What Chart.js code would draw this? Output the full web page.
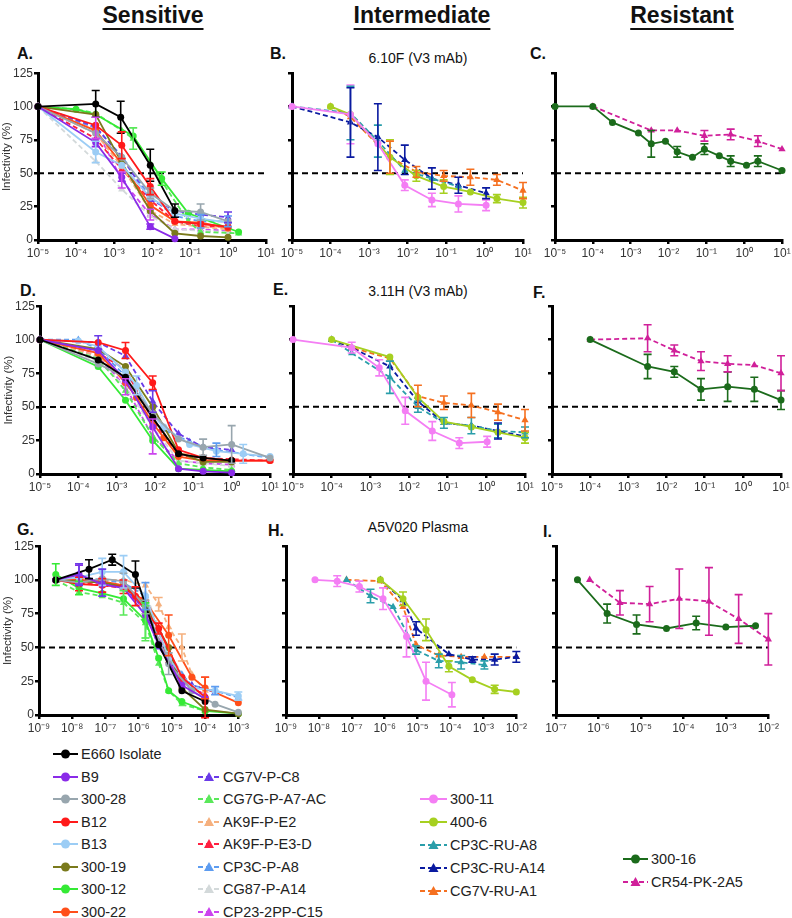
<!DOCTYPE html>
<html>
<head>
<meta charset="utf-8">
<script src="https://cdn.jsdelivr.net/npm/chart.js@4.4.1/dist/chart.umd.min.js"></script>
<style>
  body { margin: 0; background: #fff; font-family: 'Liberation Sans', Arial, sans-serif; color: #111; }
  #page { position: relative; width: 792px; height: 918px; overflow: hidden; }
  canvas { position: absolute; }
  .hd { position: absolute; font-family: 'Liberation Sans Narrow', 'Arial Narrow', 'Liberation Sans', sans-serif; font-weight: bold;
        font-size: 23px; line-height: 1; text-decoration: underline; text-decoration-thickness: 2px; text-underline-offset: 5px;
        transform: translateX(-50%); white-space: nowrap; }
  .lt { position: absolute; font-size: 16px; font-weight: bold; line-height: 1; }
  .st { position: absolute; font-size: 14px; line-height: 1; transform: translateX(-50%); white-space: nowrap; }
  .lg { position: absolute; font-size: 14.5px; line-height: 16px; height: 16px; white-space: nowrap; color: #222; display: flex; align-items: center; }
  .lg svg { flex: none; }
</style>
</head>
<body>
<div id="page">
  <div class="hd" style="left:153px;top:4px">Sensitive</div>
  <div class="hd" style="left:422px;top:4px">Intermediate</div>
  <div class="hd" style="left:682px;top:4px">Resistant</div>

  <div class="lt" style="left:17px;top:46px">A.</div>
  <div class="lt" style="left:270px;top:46px">B.</div>
  <div class="st" style="left:418px;top:51px">6.10F (V3 mAb)</div>
  <div class="lt" style="left:530px;top:46px">C.</div>

  <div class="lt" style="left:20px;top:283px">D.</div>
  <div class="lt" style="left:273px;top:282px">E.</div>
  <div class="st" style="left:418px;top:284px">3.11H (V3 mAb)</div>
  <div class="lt" style="left:533px;top:285px">F.</div>

  <div class="lt" style="left:17px;top:522px">G.</div>
  <div class="lt" style="left:268px;top:523px">H.</div>
  <div class="st" style="left:418px;top:520px">A5V020 Plasma</div>
  <div class="lt" style="left:543px;top:524px">I.</div>
</div>
<script>
// x tick exponents
const ticksRow12 = [-5, -4, -3, -2, -1, 0, 1];
const ticksG = [-9, -8, -7, -6, -5, -4, -3];
const ticksH = [-9, -8, -7, -6, -5, -4, -3, -2];
const ticksI = [-7, -6, -5, -4, -3, -2];

// [concentration, infectivity %, error]
const sensA = [
  ['E660 Isolate', [[1e-5,100],[3.3e-4,102,10],[1.5e-3,92,12],[9e-3,56,12],[0.04,22,5]]],
  ['B9', [[1e-5,100],[3.3e-4,73,3],[1.6e-3,47,3],[9e-3,10,2],[0.04,1]]],
  ['300-28', [[1e-5,100],[3.3e-4,80],[1.6e-3,62],[9e-3,35,4],[0.04,22],[0.19,21,6],[1,14]]],
  ['B12', [[1e-5,100],[3.3e-4,86],[1.6e-3,71,10],[9e-3,40,6],[0.04,14],[0.19,12],[1,10]]],
  ['B13', [[1e-5,100],[3.3e-4,66,8],[1.6e-3,56],[9e-3,32],[0.04,20],[0.19,16],[1,13]]],
  ['300-19', [[1e-5,100],[3.3e-4,94],[1.6e-3,58],[9e-3,22],[0.04,5],[0.19,3],[1,2]]],
  ['300-12', [[1e-5,100],[1e-4,98],[3.3e-4,94],[3.2e-3,78],[0.018,46,5],[0.09,20],[1.9,6]]],
  ['300-22', [[1e-5,100],[3.3e-4,82],[1.6e-3,57],[9e-3,26],[0.04,14],[0.19,13],[1,9]]],
  ['CG7V-P-C8', [[1e-5,100],[3.3e-4,85],[1.6e-3,62],[9e-3,30],[0.04,22],[0.19,19],[1,17,4]]],
  ['CG7G-P-A7-AC', [[1e-5,100],[1e-4,98],[3.3e-4,95],[1.6e-3,82],[3.2e-3,76,8],[0.018,44],[0.09,14],[0.19,6],[1.9,5]]],
  ['AK9F-P-E2', [[1e-5,100],[3.3e-4,80],[1.6e-3,55],[9e-3,22],[0.04,12],[0.19,10],[1,8]]],
  ['AK9F-P-E3-D', [[1e-5,100],[3.3e-4,76],[1.6e-3,53],[9e-3,30],[0.04,14],[0.19,10],[1,10]]],
  ['CP3C-P-A8', [[1e-5,100],[3.3e-4,84],[1.6e-3,63],[9e-3,32],[0.04,18],[0.19,14,5],[1,14,4]]],
  ['CG87-P-A14', [[1e-5,100],[3.3e-4,59],[1.6e-3,38],[9e-3,18],[0.04,8],[0.19,7],[1,6]]],
  ['CP23-2PP-C15', [[1e-5,100],[3.3e-4,84,8],[1.6e-3,45,6],[9e-3,19,4],[0.04,8],[0.19,8],[1,7]]]
];

const interB = [
  ['300-11', [[1e-5,100],[3.3e-4,94,22],[1.7e-3,72],[8.5e-3,41,4],[0.043,30,5],[0.21,27,6],[1.1,26,4]]],
  ['400-6', [[1e-4,100],[3.3e-4,94],[3.5e-3,62,13],[0.017,48,4],[0.087,40,5],[0.43,36],[2.1,31,3],[10,28,4]]],
  ['CP3C-RU-A8', [[1e-5,100],[3.3e-4,95,20],[1.7e-3,74,12],[8.5e-3,52],[0.043,46],[0.21,40]]],
  ['CP3C-RU-A14', [[1e-5,100],[3.3e-4,88,26],[1.7e-3,77,25],[8.5e-3,60,11],[0.043,46,8],[0.21,41,6],[1.1,35,4]]],
  ['CG7V-RU-A1', [[1e-4,100],[3.3e-4,92],[3.5e-3,62,12],[0.017,51,4],[0.087,48,4],[0.43,47,6],[2.1,45,4],[10,37,6]]]
];

const resC = [
  ['300-16', [[1e-5,100],[1e-4,100],[3.3e-4,88],[1.6e-3,80],[3.5e-3,72,10],[8.3e-3,74],[0.017,66,4],[0.043,62],[0.089,68,4],[0.22,63],[0.44,59,4],[1.15,56],[2.3,59,4],[10,52]]],
  ['CR54-PK-2A5', [[1e-4,100],[3.5e-3,82],[0.017,82],[0.089,78,4],[0.44,79,4],[2.3,74,4],[10,68]]]
];

const sensD = [
  ['E660 Isolate', [[1e-5,100],[3.3e-4,85],[1.7e-3,72],[8.7e-3,42],[0.041,15],[0.18,12],[1,10]]],
  ['B9', [[1e-5,100],[3.3e-4,92],[1.7e-3,70],[8.7e-3,35],[0.041,4],[0.18,2],[1,1]]],
  ['300-28', [[1e-5,100],[3.3e-4,82],[1.7e-3,72],[8.7e-3,45],[0.041,26],[0.18,20,6],[1,22,14],[10,12]]],
  ['B12', [[1e-5,100],[3.3e-4,98],[1.7e-3,92,6],[8.7e-3,68,5],[0.041,18],[0.18,12],[1,10],[10,10]]],
  ['B13', [[1e-5,100],[1e-4,99],[3.3e-4,95],[1.7e-3,76],[3.3e-3,66,7],[8.7e-3,44],[0.017,35],[0.08,22],[0.4,17],[2,15,7],[10,13]]],
  ['300-19', [[1e-5,100],[3.3e-4,93],[1.7e-3,80],[8.7e-3,50],[0.041,16],[0.18,9],[1,9]]],
  ['300-12', [[1e-5,100],[3.3e-4,80],[1.7e-3,55],[8.7e-3,25],[0.041,4],[0.18,3],[1,2]]],
  ['300-22', [[1e-5,100],[3.3e-4,90],[1.7e-3,68],[3.3e-3,57],[8.7e-3,38],[0.017,27],[0.041,13],[0.18,10],[1,10],[10,10]]],
  ['CG7V-P-C8', [[1e-5,100],[3.3e-4,98,5],[1.7e-3,88],[8.7e-3,54,8],[0.041,30],[0.18,20],[1,18]]],
  ['CG7G-P-A7-AC', [[1e-5,100],[3.3e-4,86],[1.7e-3,62],[8.7e-3,28],[0.041,8],[0.18,5],[1,3]]],
  ['AK9F-P-E2', [[1e-5,100],[3.3e-4,88],[1.7e-3,70],[8.7e-3,42],[0.041,16],[0.18,12],[1,10]]],
  ['AK9F-P-E3-D', [[1e-5,100],[3.3e-4,90],[1.7e-3,78],[8.7e-3,40],[0.041,14],[0.18,12],[1,11],[10,10]]],
  ['CP3C-P-A8', [[1e-5,100],[1e-4,100],[3.3e-4,93],[1.7e-3,73],[3.3e-3,66],[8.7e-3,40],[0.017,33],[0.08,24],[0.4,18,5],[2,15],[10,12]]],
  ['CG87-P-A14', [[1e-5,100],[3.3e-4,84],[1.7e-3,65],[8.7e-3,35],[0.041,10],[0.18,8],[1,6]]],
  ['CP23-2PP-C15', [[1e-5,100],[3.3e-4,88],[1.7e-3,65,6],[8.7e-3,28,13],[0.041,10],[0.18,8],[1,7]]]
];

const interE = [
  ['300-11', [[1e-5,100],[3.3e-4,94,4],[1.7e-3,79,6],[8e-3,47,10],[0.04,32,7],[0.2,23,4],[1.05,24,4]]],
  ['400-6', [[1e-4,100],[3.2e-3,87],[0.017,57],[0.08,39],[0.41,35],[2,31],[10,27,4]]],
  ['CP3C-RU-A8', [[1e-4,100],[3.3e-4,90],[3.2e-3,72,12],[0.017,50,4],[0.08,38,4],[0.41,36,6],[2,32,5],[10,31,4]]],
  ['CP3C-RU-A14', [[1e-4,100],[3.3e-4,94],[3.2e-3,80],[0.017,54],[0.08,38],[0.41,36],[2,32,6],[10,28]]],
  ['CG7V-RU-A1', [[1e-4,100],[3.3e-4,94],[3.2e-3,86],[0.017,58,8],[0.08,53,5],[0.41,51,9],[2,46,6],[10,40,8]]]
];

const resF = [
  ['300-16', [[1e-4,100],[3.2e-3,80,9],[0.016,76,4],[0.08,63,8],[0.4,65,11],[2,63,9],[10,55,7]]],
  ['CR54-PK-2A5', [[1e-4,100],[3.2e-3,101,10],[0.016,92,4],[0.08,84,7],[0.4,82,6],[2,81],[10,75,13]]]
];

const sensG = [
  ['E660 Isolate', [[3.2e-9,100],[3.2e-8,108,7],[1.6e-7,115,4],[8e-7,104,10],[4e-6,52],[2e-5,18],[1e-4,10]]],
  ['B9', [[3.2e-9,100],[1.6e-8,104,7],[8e-8,97],[3.5e-7,94],[1.6e-6,74],[4e-6,52],[2e-5,22],[1e-4,12]]],
  ['300-28', [[3.2e-9,100],[1.6e-8,98],[8e-8,101],[3.5e-7,99,6],[1.6e-6,80,5],[8e-6,38,8],[4e-5,18],[2e-4,8],[1e-3,2]]],
  ['B12', [[3.2e-9,100],[1.6e-8,97,5],[8e-8,96,5],[3.5e-7,95,5],[8e-7,88,7],[4e-6,64,4],[2e-5,28],[1e-4,13,15]]],
  ['B13', [[3.2e-9,100],[1.6e-8,102],[8e-8,106,10],[3.5e-7,106,12],[1.6e-6,88],[8e-6,42],[4e-5,20],[2e-4,18],[1e-3,14,3]]],
  ['300-19', [[3.2e-9,100],[1.6e-8,99],[8e-8,98],[3.5e-7,95],[1.6e-6,82],[8e-6,50],[2e-5,20],[1e-4,4],[1e-3,1]]],
  ['300-12', [[3.2e-9,104,8],[1.6e-8,94,5],[8e-8,90],[3.5e-7,86],[1.6e-6,70,13],[4e-6,42],[8e-6,18],[2e-5,10],[1e-4,3],[1e-3,1]]],
  ['300-22', [[3.2e-9,100],[1.6e-8,100],[8e-8,99],[3.5e-7,96],[1.6e-6,84],[8e-6,59,15],[4e-5,28],[1e-4,20,8],[1e-3,9]]],
  ['CG7V-P-C8', [[3.2e-9,100],[1.6e-8,104,8],[8e-8,98,10],[3.5e-7,95],[1.6e-6,78],[4e-6,50],[2e-5,28],[4e-5,22],[2e-4,17]]],
  ['CG7G-P-A7-AC', [[3.2e-9,100],[1.6e-8,91],[8e-8,88],[3.5e-7,83,9],[1.6e-6,68,13],[4e-6,38],[8e-6,18],[2e-5,8],[1e-4,3]]],
  ['AK9F-P-E2', [[3.2e-9,100],[1.6e-8,101],[8e-8,100],[3.5e-7,100],[1.6e-6,96],[4e-6,82,5],[8e-6,65],[2e-5,50,10],[4e-5,30],[1e-4,18]]],
  ['AK9F-P-E3-D', [[3.2e-9,100],[1.6e-8,98],[8e-8,96],[3.5e-7,94],[1.6e-6,85],[4e-6,62],[8e-6,40],[2e-5,26],[1e-4,14]]],
  ['CP3C-P-A8', [[3.2e-9,100],[1.6e-8,102],[8e-8,100],[3.5e-7,98],[1.6e-6,88,10],[4e-6,52],[2e-5,30],[4e-5,22],[2e-4,18,3],[1e-3,13]]],
  ['CG87-P-A14', [[3.2e-9,100],[1.6e-8,100],[8e-8,98],[3.5e-7,96],[1.6e-6,90],[8e-6,46],[4e-5,20],[1e-4,14]]],
  ['CP23-2PP-C15', [[3.2e-9,100],[1.6e-8,100],[8e-8,97],[3.5e-7,94],[1.6e-6,78],[4e-6,55],[2e-5,25],[1e-4,15]]]
];

const interH = [
  ['300-11', [[7.6e-9,100],[3.6e-8,99,4],[1.7e-7,95,4],[8.9e-7,86,8],[4.6e-6,58,15],[1.8e-5,25,14],[1.1e-4,15,9]]],
  ['400-6', [[7.4e-7,100],[3.6e-6,86,5],[1.8e-5,63,8],[8.9e-5,36,4],[4.6e-4,26],[2.2e-3,19,3],[1e-2,17]]],
  ['CP3C-RU-A8', [[6.9e-8,100],[3.7e-7,88,5],[1.8e-6,80],[9e-6,48,3],[4.4e-5,40,5],[2.1e-4,39,5],[1.07e-3,37,3]]],
  ['CP3C-RU-A14', [[7.4e-7,100],[3.6e-6,85],[9e-6,64,5],[8.9e-5,45],[4.6e-4,41,2],[2.2e-3,41,4],[1e-2,43,4]]],
  ['CG7V-RU-A1', [[6.9e-8,100],[7.4e-7,99],[3.6e-6,80],[9e-6,52],[4.4e-5,44],[2.1e-4,43],[1.07e-3,43],[1e-2,43]]]
];

const resI = [
  ['300-16', [[3.2e-7,100],[1.6e-6,75,7],[7.9e-6,67,7],[4e-5,64],[2e-4,68,5],[1e-3,65],[5e-3,66]]],
  ['CR54-PK-2A5', [[6.2e-7,100],[3.2e-6,83,9],[1.6e-5,82,13],[8e-5,86,22],[4e-4,84,25],[2e-3,71,18],[1e-2,56,19]]]
];

// legend columns
const legendCol1 = ['E660 Isolate', 'B9', '300-28', 'B12', 'B13', '300-19', '300-12', '300-22'];
const legendCol2 = ['CG7V-P-C8', 'CG7G-P-A7-AC', 'AK9F-P-E2', 'AK9F-P-E3-D', 'CP3C-P-A8', 'CG87-P-A14', 'CP23-2PP-C15'];
const legendCol3 = ['300-11', '400-6', 'CP3C-RU-A8', 'CP3C-RU-A14', 'CG7V-RU-A1'];
const legendCol4 = ['300-16', 'CR54-PK-2A5'];

// colour, marker, dashed
const styles = {
  'E660 Isolate': ['#000000', 'circle', false],
  'B9': ['#8a2be8', 'circle', false],
  '300-28': ['#98a6ae', 'circle', false],
  'B12': ['#ff1a1a', 'circle', false],
  'B13': ['#9ccdf5', 'circle', false],
  '300-19': ['#7a7a1c', 'circle', false],
  '300-12': ['#35ea35', 'circle', false],
  '300-22': ['#ff4f1a', 'circle', false],
  'CG7V-P-C8': ['#6a3be8', 'triangle', true],
  'CG7G-P-A7-AC': ['#5ae85a', 'triangle', true],
  'AK9F-P-E2': ['#f5b07e', 'triangle', true],
  'AK9F-P-E3-D': ['#ff2040', 'triangle', true],
  'CP3C-P-A8': ['#5d9cf0', 'triangle', true],
  'CG87-P-A14': ['#d3d9da', 'triangle', true],
  'CP23-2PP-C15': ['#cc44ee', 'triangle', true],
  '300-11': ['#f47ef4', 'circle', false],
  '400-6': ['#a6d020', 'circle', false],
  'CP3C-RU-A8': ['#2a9eaa', 'triangle', true],
  'CP3C-RU-A14': ['#0a1aa0', 'triangle', true],
  'CG7V-RU-A1': ['#f57020', 'triangle', true],
  '300-16': ['#1b6b1b', 'circle', false],
  'CR54-PK-2A5': ['#d0209a', 'triangle', true]
};

Chart.defaults.font.family = "'Liberation Sans', Arial, sans-serif";

const SUP = { '-': '\u207B', '0': '\u2070', '1': '\u00B9', '2': '\u00B2', '3': '\u00B3', '4': '\u2074', '5': '\u2075', '6': '\u2076', '7': '\u2077', '8': '\u2078', '9': '\u2079' };
function powLabel(e) {
  return '10' + String(e).split('').map(c => SUP[c]).join('');
}

const errorBars = {
  id: 'errorBars',
  afterDatasetsDraw(chart) {
    const ctx = chart.ctx, xs = chart.scales.x, ys = chart.scales.y;
    chart.data.datasets.forEach(ds => {
      if (!ds.errs) return;
      ctx.save();
      ctx.strokeStyle = ds.borderColor;
      ctx.lineWidth = 1.6;
      ds.data.forEach((p, i) => {
        const e = ds.errs[i];
        if (!e) return;
        const px = xs.getPixelForValue(p.x);
        const y1 = ys.getPixelForValue(p.y + e), y2 = ys.getPixelForValue(p.y - e);
        ctx.beginPath();
        ctx.moveTo(px, y1); ctx.lineTo(px, y2);
        ctx.moveTo(px - 4, y1); ctx.lineTo(px + 4, y1);
        ctx.moveTo(px - 4, y2); ctx.lineTo(px + 4, y2);
        ctx.stroke();
      });
      ctx.restore();
    });
  }
};

const YW = 38, PT = 8, PR = 12, XH = 26;

function makePanel(series, p) {
  const cv = document.createElement('canvas');
  const w = YW + (p.right - p.left) + PR;
  const h = PT + (p.bottom - p.top) + XH;
  cv.width = w; cv.height = h;
  cv.style.left = (p.left - YW) + 'px';
  cv.style.top = (p.top - PT) + 'px';
  cv.style.width = w + 'px'; cv.style.height = h + 'px';
  document.getElementById('page').appendChild(cv);

  const datasets = series.map(([name, pts]) => {
    const [color, shape, dashed] = styles[name];
    return {
      label: name,
      data: pts.map(q => ({ x: q[0], y: q[1] })),
      errs: pts.map(q => q[2] || 0),
      borderColor: color,
      backgroundColor: color,
      borderWidth: 1.8,
      borderDash: dashed ? [5, 3] : [],
      pointStyle: shape,
      pointRadius: shape === 'circle' ? 3.5 : 4.2,
      pointBorderWidth: 0,
      tension: 0,
      clip: false
    };
  });
  datasets.push({
    label: 'IC50',
    data: [{ x: p.min, y: 50 }, { x: p.max, y: 50 }],
    borderColor: '#000',
    borderWidth: 2,
    borderDash: [6, 4],
    pointRadius: 0,
    clip: false
  });

  const axisGrid = { display: true, drawOnChartArea: false, drawTicks: true, tickLength: 4, lineWidth: 2.5, color: '#000' };
  new Chart(cv, {
    type: 'line',
    data: { datasets },
    plugins: [errorBars],
    options: {
      responsive: false,
      animation: false,
      events: [],
      layout: { padding: { left: 0, right: PR, top: PT, bottom: 0 }, autoPadding: false },
      plugins: { legend: { display: false }, tooltip: { enabled: false } },
      scales: {
        x: {
          type: 'logarithmic',
          min: p.min, max: p.max,
          afterBuildTicks: s => { s.ticks = p.exps.map(e => ({ value: Math.pow(10, e) })); },
          afterFit: s => { s.height = XH; },
          border: { display: true, color: '#000', width: 3 },
          grid: axisGrid,
          ticks: {
            color: '#333', font: { size: 12 }, padding: 2, maxRotation: 0, autoSkip: false,
            callback: v => powLabel(Math.round(Math.log10(v)))
          }
        },
        y: {
          min: 0, max: 125,
          afterFit: s => { s.width = YW; },
          border: { display: true, color: '#000', width: 3 },
          grid: axisGrid,
          ticks: { display: p.yLabels, stepSize: 25, color: '#333', font: { size: 12 }, padding: 1 },
          title: { display: p.yLabels, text: 'Infectivity (%)', color: '#333', font: { size: 11.5 }, padding: { top: 0, bottom: 1 } }
        }
      }
    }
  });
}

makePanel(sensA,  { left: 38,  right: 266, top: 72.5, bottom: 240, min: 1e-5, max: 10, exps: ticksRow12, yLabels: true });
makePanel(interB, { left: 292, right: 523, top: 72.5, bottom: 240, min: 1e-5, max: 10, exps: ticksRow12, yLabels: false });
makePanel(resC,   { left: 555, right: 782, top: 72.5, bottom: 240, min: 1e-5, max: 10, exps: ticksRow12, yLabels: false });
makePanel(sensD,  { left: 40,  right: 270, top: 306, bottom: 474, min: 1e-5, max: 10, exps: ticksRow12, yLabels: true });
makePanel(interE, { left: 293, right: 525, top: 306, bottom: 474, min: 1e-5, max: 10, exps: ticksRow12, yLabels: false });
makePanel(resF,   { left: 552, right: 781, top: 306, bottom: 474, min: 1e-5, max: 10, exps: ticksRow12, yLabels: false });
makePanel(sensG,  { left: 39,  right: 239, top: 546, bottom: 715, min: 1e-9, max: 1e-3, exps: ticksG, yLabels: true });
makePanel(interH, { left: 286, right: 517, top: 546, bottom: 715, min: 1e-9, max: 1e-2, exps: ticksH, yLabels: false });
makePanel(resI,   { left: 556, right: 769, top: 546, bottom: 715, min: 1e-7, max: 1e-2, exps: ticksI, yLabels: false });

// legend
function legendItem(name, x, textX, cy) {
  const [color, shape, dashed] = styles[name];
  const sw = textX - x - 3;
  const mid = sw / 2;
  const marker = shape === 'circle'
    ? `<circle cx="${mid}" cy="8" r="4.5" fill="${color}"/>`
    : `<polygon points="${mid},3 ${mid - 5},12 ${mid + 5},12" fill="${color}"/>`;
  const div = document.createElement('div');
  div.className = 'lg';
  div.style.left = x + 'px';
  div.style.top = (cy - 8) + 'px';
  div.innerHTML = `<svg width="${sw}" height="16"><line x1="0" y1="8" x2="${sw}" y2="8" stroke="${color}" stroke-width="2"${dashed ? ' stroke-dasharray="5,3"' : ''}/>${marker}</svg><span style="margin-left:3px">${name}</span>`;
  document.getElementById('page').appendChild(div);
}
const rowY = [754, 777, 799, 822, 844, 867, 889, 912];
legendCol1.forEach((n, i) => legendItem(n, 53, 81, rowY[i]));
legendCol2.forEach((n, i) => legendItem(n, 198, 223, rowY[i + 1]));
const rowY3 = [799, 822, 845, 868, 891];
legendCol3.forEach((n, i) => legendItem(n, 420, 450, rowY3[i]));
legendCol4.forEach((n, i) => legendItem(n, 623, 651, [859, 882][i]));
</script>
</body>
</html>
